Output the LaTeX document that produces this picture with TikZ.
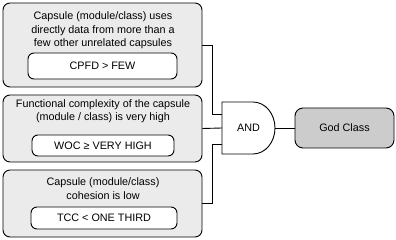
\documentclass[tikz,border=0pt]{standalone}
\usepackage{fontspec}
\setmainfont{Liberation Sans}
\tikzset{
  capsule/.style={draw, rounded corners=7pt, fill=black!8, line width=0.9pt},
  metric/.style={draw, rounded corners=6pt, fill=white, line width=0.9pt},
  wire/.style={line width=0.9pt},
  txt/.style={align=center, font=\fontsize{10.8}{13.5}\selectfont}
}
\begin{document}
\begin{tikzpicture}[x=1pt, y=-1pt]
        \useasboundingbox (0,0) rectangle (396,240);
        % the three conditions
        \node[capsule, minimum width=199pt, minimum height=84pt] (capA) at (102.5,45) {};
        \node[txt] (descA) at (103,30.5) {Capsule (module/class) uses\\directly data from more than a\\few other unrelated capsules};
        \node[metric, txt, minimum width=149pt, minimum height=26pt] (cpfd) at (102.5,66) {CPFD > FEW};
        \node[capsule, minimum width=199pt, minimum height=67pt] (capB) at (102.5,128.5) {};
        \node[txt] (descB) at (103,111) {Functional complexity of the capsule\\(module / class) is very high};
        \node[metric, txt, minimum width=142pt, minimum height=21pt] (woc) at (103,145.5) {WOC ≥ VERY HIGH};
        \node[capsule, minimum width=199pt, minimum height=67pt] (capC) at (102.5,203.5) {};
        \node[txt] (descC) at (103,188.5) {Capsule (module/class)\\cohesion is low};
        \node[metric, txt, minimum width=146pt, minimum height=22pt] (tcc) at (104,218) {TCC < ONE THIRD};
        % and gate
        \coordinate (gate) at (222,102);
        \draw[wire, fill=white] (gate) -- ++(31,0)
            arc[start angle=-90, end angle=90, x radius=22, y radius=26] -- ++(-31,0) -- cycle;
        \node[txt, minimum width=53pt, minimum height=52pt, inner sep=0pt] (and) at (248.5,128) {AND};
        \node[capsule, fill=black!20, rounded corners=8pt, txt, minimum width=99pt, minimum height=40pt] (god) at (344.5,128) {God Class};
        % wiring
        \draw[wire] (capA.east) -- ++(10,0) |- ([yshift=14pt]and.west);
        \draw[wire] (capB.east) -- (and.west);
        \draw[wire] (capC.east) -- ++(10,0) |- ([yshift=-16pt]and.west);
        \draw[wire] (and.east) -- (god.west);
    \end{tikzpicture}
\end{document}
